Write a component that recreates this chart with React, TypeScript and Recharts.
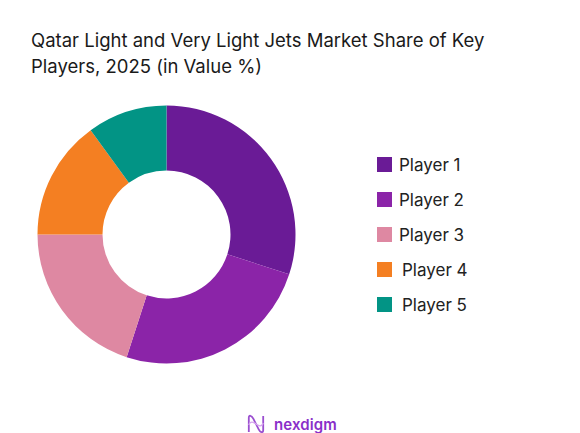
import React from "react";
import { PieChart, Pie, Cell, Legend } from "recharts";

const players = ["Player 1", "Player 2", "Player 3", "Player 4", "Player 5"];
const shares = [30, 25, 20, 15, 10];
const colors = ["#6A1B96", "#8B24A8", "#DE88A2", "#F47F22", "#029485"];

const data = players.map((name, i) => ({ name, value: shares[i] }));

const FONT = "Inter, 'Open Sans', 'DejaVu Sans', sans-serif";

const renderLegend = (props: any) => {
  const { payload } = props;
  return (
    <div>
      {payload.map((entry: any, i: number) => (
        <div
          key={entry.value}
          style={{
            display: "flex",
            alignItems: "center",
            height: 35,
            fontFamily: FONT,
            fontSize: 17,
            color: "#222",
          }}
        >
          <span
            style={{
              display: "inline-block",
              width: 15,
              height: 15,
              background: entry.color,
              marginRight: i >= 3 ? 10 : 7,
            }}
          />
          <span>{entry.value}</span>
        </div>
      ))}
    </div>
  );
};

export default function App() {
  return (
    <div
      style={{
        position: "absolute",
        left: 0,
        top: 0,
        width: 580,
        height: 433,
        background: "#fff",
        overflow: "hidden",
      }}
    >
      <div
        style={{
          position: "absolute",
          left: 31,
          top: 27,
          width: 540,
          fontFamily: FONT,
          fontSize: 18.5,
          lineHeight: "26px",
          color: "#1a1a1a",
        }}
      >
        Qatar Light and Very Light Jets Market Share of Key
        <br />
        Players, 2025 (in Value %)
      </div>
      <PieChart
        width={580}
        height={433}
        margin={{ top: 0, right: 0, bottom: 0, left: 0 }}
        style={{ position: "absolute", left: 0, top: 0 }}
      >
        <Pie
          data={data}
          dataKey="value"
          nameKey="name"
          cx={166.5}
          cy={234.5}
          innerRadius={64}
          outerRadius={129}
          startAngle={90}
          endAngle={-270}
          stroke="none"
          isAnimationActive={false}
        >
          {data.map((d, i) => (
            <Cell key={d.name} fill={colors[i]} />
          ))}
        </Pie>
        <Legend
          layout="vertical"
          content={renderLegend}
          wrapperStyle={{ position: "absolute", left: 377, top: 147, width: 150 }}
        />
      </PieChart>
      <div
        style={{
          position: "absolute",
          left: 247,
          top: 413,
          display: "flex",
          alignItems: "center",
          fontFamily: FONT,
        }}
      >
        <svg width={18} height={22} viewBox="0 0 20 22">
          <path
            d="M2 20 L2 4 C2 1 5 1 7 5 L13 17 C15 21 18 21 18 18 L18 2"
            fill="none"
            stroke="#9b4fd0"
            strokeWidth={2}
          />
          <path
            d="M2 12 C6 2 14 20 18 10"
            fill="none"
            stroke="#d7a6ef"
            strokeWidth={1.5}
          />
        </svg>
        <span
          style={{
            marginLeft: 9,
            fontSize: 15,
            fontWeight: 600,
            color: "#8a2fc9",
            letterSpacing: 0.1,
          }}
        >
          nexdigm
        </span>
      </div>
    </div>
  );
}
